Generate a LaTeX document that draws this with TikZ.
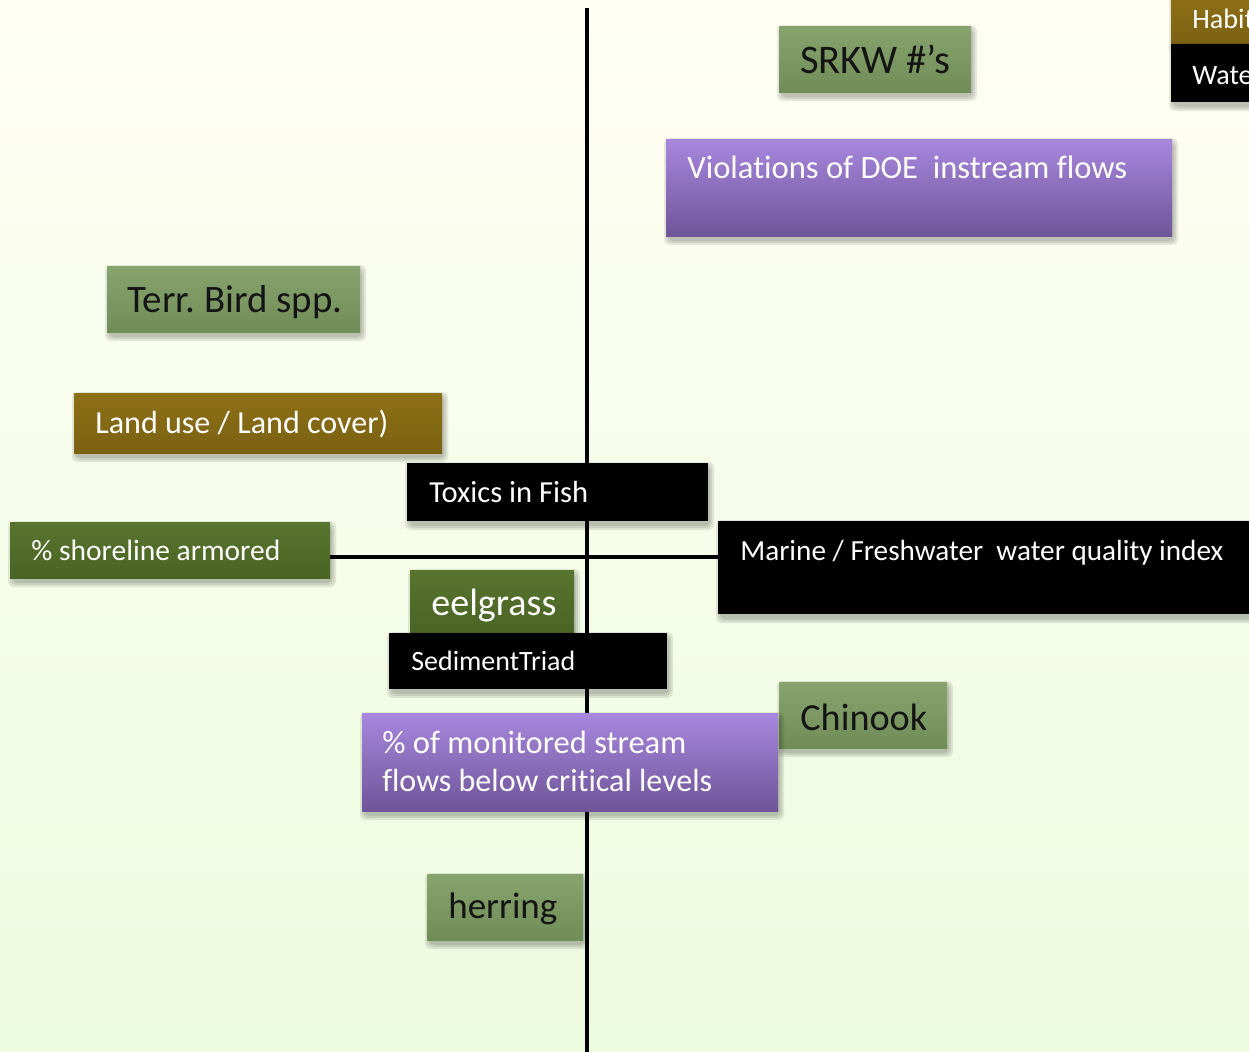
\documentclass[tikz,border=0pt]{standalone}
\usepackage{fontspec}
\setmainfont{Carlito}[Ligatures=NoCommon]
\frenchspacing

\definecolor{bgtop}{HTML}{FFFFF4}
\definecolor{bgbot}{HTML}{EDFBDF}
\definecolor{sagetop}{HTML}{88A46E}
\definecolor{sagebot}{HTML}{718D57}
\definecolor{olivetop}{HTML}{58742E}
\definecolor{olivebot}{HTML}{4A6424}
\definecolor{browntop}{HTML}{8E7016}
\definecolor{brownbot}{HTML}{7A6112}
\definecolor{purptop}{HTML}{A887DE}
\definecolor{purpbot}{HTML}{6E5598}

\tikzset{
  panelbase/.style={rectangle, inner sep=0pt, outer sep=0pt},
  sagebox/.style={panelbase, top color=sagetop, bottom color=sagebot},
  olivebox/.style={panelbase, top color=olivetop, bottom color=olivebot},
  brownbox/.style={panelbase, top color=browntop, bottom color=brownbot},
  purplebox/.style={panelbase, top color=purptop, bottom color=purpbot},
  blackbox/.style={panelbase, fill=black},
  softshadow/.style={fill=black, opacity=0.09, rounded corners=3pt},
  darktext/.style={anchor=base west, inner sep=0pt, text=black!92},
  lighttext/.style={anchor=base west, inner sep=0pt, text=white},
  axis/.style={line width=0.09cm, black},
}

% panel: name, style, left, top, right, bottom (pixel-like units),
% with a soft shadow built from a few translucent layers
\newcommand\panel[6]{%
  \foreach \g in {0,2,4}{%
    \fill[softshadow] ({#3+2-\g},{#4+3-\g}) rectangle ({#5+2+\g},{#6+5+\g});}
  \node[#2, minimum width={(#5-#3)*0.02cm}, minimum height={(#6-#4)*0.02cm}]
    (#1) at ({(#3+#5)/2},{(#4+#6)/2}) {};}

\begin{document}
\begin{tikzpicture}[x=0.02cm, y=-0.02cm]
  \useasboundingbox (0,0) rectangle (1249,1052);
  \fill[top color=bgtop, bottom color=bgbot] (0,0) rectangle (1249,1052);
  \clip (0,0) rectangle (1249,1052);

  % axes
  \coordinate (vtop) at (587,8);
  \coordinate (vbot) at (587,1060);
  \coordinate (hl) at (0,557);
  \draw[axis] (vtop) -- (vbot);

  % panels
  \panel{srkw}{sagebox}{779}{26}{971}{92}
  \panel{habi}{brownbox}{1171}{-5}{1262}{44}
  \panel{wate}{blackbox}{1171}{44}{1262}{102}
  \panel{viol}{purplebox}{666}{139}{1172}{236}
  \panel{terr}{sagebox}{107}{266}{360}{332}
  \panel{land}{brownbox}{74}{393}{442}{453}
  \panel{tox}{blackbox}{407}{463}{708}{521}
  \panel{shore}{olivebox}{10}{522}{330}{578}
  \panel{marine}{blackbox}{718}{521}{1262}{614}

  \draw[axis] (shore.east |- hl) -- (marine.west |- hl);

  \panel{eel}{olivebox}{410}{570}{574}{633}
  \panel{sed}{blackbox}{389}{633}{667}{689}
  \panel{chin}{sagebox}{779}{682}{947}{748}
  \panel{mon}{purplebox}{362}{713}{778}{811}
  \panel{her}{sagebox}{427}{874}{583}{940}

  % labels
  \node[darktext] (srkw-t) at (800,73) {\resizebox{3.00cm}{!}{SRKW \#’s}};
  \node[lighttext] (habi-t) at (1192,28) {\fontsize{16pt}{18pt}\selectfont Habitat};
  \node[lighttext] (wate-t) at (1192,84) {\fontsize{16pt}{18pt}\selectfont Water};
  \node[lighttext] (viol-t) at (687,178) {\resizebox{8.80cm}{!}{Violations of DOE\ \ instream flows}};
  \node[darktext] (terr-t) at (127,312) {\resizebox{4.30cm}{!}{Terr. Bird spp.}};
  \node[lighttext] (land-t) at (95,433) {\resizebox{5.86cm}{!}{Land use / Land cover)}};
  \node[lighttext] (tox-t) at (429,502) {\resizebox{3.18cm}{!}{Toxics in Fish}};
  \node[lighttext] (shore-t) at (31,560) {\resizebox{4.98cm}{!}{\% shoreline armored}};
  \node[lighttext] (marine-t) at (740,560) {\resizebox{9.66cm}{!}{Marine / Freshwater\ \ water quality index}};
  \node[lighttext] (eel-t) at (431,615) {\resizebox{2.50cm}{!}{eelgrass}};
  \node[lighttext] (sed-t) at (411,670) {\resizebox{3.28cm}{!}{SedimentTriad}};
  \node[darktext] (chin-t) at (800,730) {\resizebox{2.54cm}{!}{Chinook}};
  \node[lighttext] (mon-t1) at (382,753) {\resizebox{6.08cm}{!}{\% of monitored stream}};
  \node[lighttext] (mon-t2) at (382,791) {\resizebox{6.60cm}{!}{flows below critical levels}};
  \node[darktext] (her-t) at (448,918) {\resizebox{2.18cm}{!}{herring}};
\end{tikzpicture}
\end{document}
